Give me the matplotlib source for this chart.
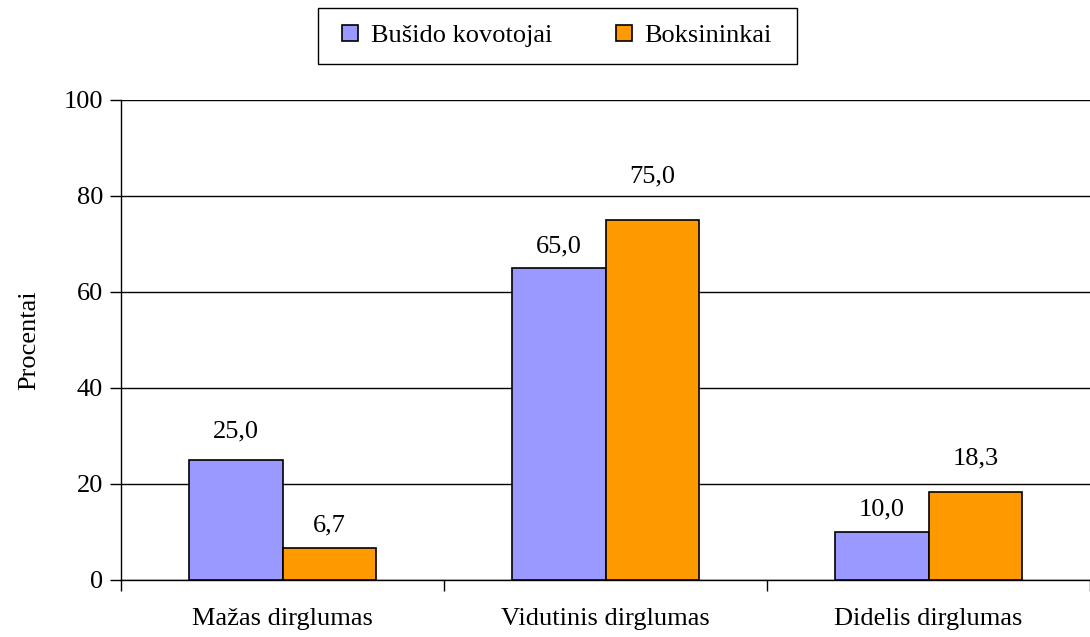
import matplotlib
matplotlib.use("Agg")
import matplotlib.pyplot as plt
from matplotlib.patches import Rectangle
import numpy as np

categories = ["Mažas dirglumas", "Vidutinis dirglumas", "Didelis dirglumas"]
series_names = ["Bušido kovotojai", "Boksininkai"]
busido = [25.0, 65.0, 10.0]
boksininkai = [6.7, 75.0, 18.3]
colors = ["#9999FF", "#FF9900"]
# gap between bar top and its value label, in pixels (as placed in the original)
label_gap = [[23, 16, 17], [16, 38, 28]]

plt.rcParams["font.family"] = ["Liberation Serif", "DejaVu Serif"]
FS = 19

W, H = 1090, 637
fig = plt.figure(figsize=(W / 100, H / 100), dpi=100)
left, right = 121, 1090
bottom, top = 580, 100
ax = fig.add_axes([left / W, (H - bottom) / H, (right - left) / W, (bottom - top) / H])

x = np.arange(len(categories))
bw = 0.29
for i, (vals, name, col) in enumerate(zip([busido, boksininkai], series_names, colors)):
    pos = x + (i - 0.5) * bw
    ax.bar(pos, vals, width=bw, color=col, edgecolor="black", linewidth=1.2,
           label=name, zorder=3)
    for p, v, g in zip(pos, vals, label_gap[i]):
        ax.annotate(f"{v:.1f}".replace(".", ","), (p, v), xytext=(0, g * 0.72),
                    textcoords="offset points", ha="center", va="baseline", fontsize=FS)

ax.set_ylim(0, 100)
ax.set_xlim(-0.5, -0.5 + (right - left) / 324)
ax.set_yticks([0, 20, 40, 60, 80, 100])
ax.yaxis.grid(True, color="black", linewidth=1.0, zorder=0)
ax.set_axisbelow(True)

ax.set_xticks([-0.5, 0.5, 1.5, 2.5])
ax.set_xticklabels([])
ax.set_xticks(x, minor=True)
ax.set_xticklabels(categories, minor=True, fontsize=FS)
ax.tick_params(axis="x", which="minor", length=0, pad=20)
ax.tick_params(axis="x", which="major", length=8, width=1, direction="out")
ax.tick_params(axis="y", length=8, width=1, labelsize=FS, pad=5)

for s in ["top", "right"]:
    ax.spines[s].set_visible(False)
for s in ["left", "bottom"]:
    ax.spines[s].set_linewidth(1.0)

ax.set_ylabel("Procentai", fontsize=FS, labelpad=17)

# legend box as in the original
fig.patches.append(Rectangle((318 / W, 1 - 64 / H), (797 - 318) / W, 56 / H,
                             transform=fig.transFigure, facecolor="white",
                             edgecolor="black", linewidth=1.0))
leg = fig.legend(loc="center", bbox_to_anchor=(557 / W, 1 - 36 / H), ncol=2,
                 fontsize=FS, frameon=False,
                 handlelength=0.6, handleheight=0.6, handletextpad=0.5,
                 columnspacing=2.4)

fig.savefig("out.png", dpi=100)
